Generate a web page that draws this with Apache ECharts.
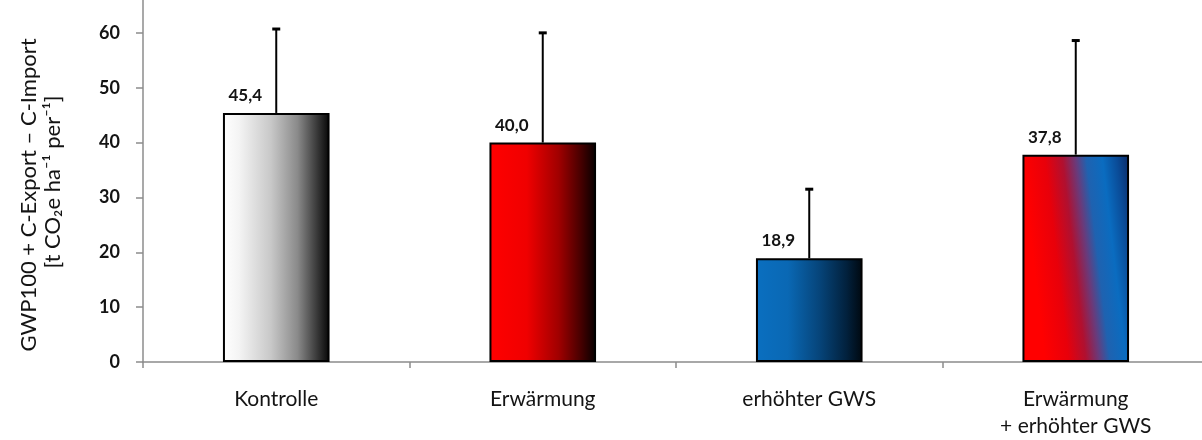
<!DOCTYPE html>
<html>
<head>
<meta charset="utf-8">
<script src="https://cdn.jsdelivr.net/npm/echarts@6/dist/echarts.min.js"></script>
<style>
  html, body { margin: 0; padding: 0; background: #fff; }
  #chart { width: 1202px; height: 440px; }
</style>
</head>
<body>
<div id="chart"></div>
<script>
// Treatments and their mean net balance with the upper standard deviation
const categories = ['Kontrolle', 'Erwärmung', 'erhöhter GWS', 'Erwärmung\n+ erhöhter GWS'];
const means = [45.4, 40.0, 18.9, 37.8];
const stdDev = [15.3, 20.0, 12.6, 20.8];
const yTicks = [0, 10, 20, 30, 40, 50, 60, 70];

const FONT = 'Lato, "Open Sans", sans-serif';
const AXIS_GREY = '#8c8c8c';
const TEXT = '#141414';

function hGrad(stops) {
  return new echarts.graphic.LinearGradient(0, 0, 1, 0,
    stops.map(s => ({ offset: s[0], color: s[1] })));
}

// One fill per treatment
const fills = [
  hGrad([[0, '#ffffff'], [0.15, '#f4f4f4'], [0.45, '#c8c8c8'], [0.7, '#8a8a8a'], [0.88, '#3a3a3a'], [1, '#050505']]),
  hGrad([[0, '#ff0000'], [0.35, '#f00000'], [0.65, '#a00000'], [0.85, '#4a0000'], [1, '#050000']]),
  hGrad([[0, '#0a6fc0'], [0.3, '#0a68b4'], [0.6, '#064479'], [0.85, '#02213d'], [1, '#00080f']]),
  // combined treatment: red fading into blue along a slight diagonal
  new echarts.graphic.LinearGradient(0, 0.06, 1, 0, [
    { offset: 0, color: '#ff0000' },
    { offset: 0.22, color: '#e8000a' },
    { offset: 0.38, color: '#b01030' },
    { offset: 0.5, color: '#6a3a7a' },
    { offset: 0.6, color: '#1f62b0' },
    { offset: 0.75, color: '#0a6cc0' },
    { offset: 0.88, color: '#0a4c98' },
    { offset: 1, color: '#0a2a68' }
  ])
];

const chart = echarts.init(document.getElementById('chart'), null, { renderer: 'canvas' });

chart.setOption({
  animation: false,
  backgroundColor: '#ffffff',
  grid: { left: 143, right: -7, top: -22, bottom: 78, containLabel: false, outerBoundsMode: 'none' },
  xAxis: {
    type: 'category',
    data: categories,
    axisLine: { lineStyle: { color: AXIS_GREY, width: 1.5 } },
    axisTick: { show: true, length: 6, lineStyle: { color: AXIS_GREY, width: 1.5 } },
    axisLabel: {
      color: TEXT, fontFamily: FONT, fontSize: 21, margin: 24, lineHeight: 27
    }
  },
  yAxis: {
    type: 'value',
    min: 0, max: yTicks[yTicks.length - 1], interval: yTicks[1] - yTicks[0],
    splitLine: { show: false },
    axisLine: { show: true, lineStyle: { color: AXIS_GREY, width: 1.5 } },
    axisTick: { show: true, length: 7, lineStyle: { color: AXIS_GREY, width: 1.5 } },
    axisLabel: {
      color: TEXT, fontFamily: FONT, fontSize: 18, fontWeight: 'bold', margin: 23
    }
  },
  graphic: [
    {
      type: 'text', x: 29, y: 195, rotation: Math.PI / 2,
      style: {
        text: 'GWP100 + C-Export \u2013 C-Import', fill: TEXT,
        font: '22px ' + FONT, align: 'center', verticalAlign: 'middle'
      }
    },
    {
      type: 'text', x: 53, y: 182, rotation: Math.PI / 2,
      style: {
        text: '[t CO\u2082e ha\u207B\u00B9 per\u207B\u00B9]', fill: TEXT,
        font: '22px ' + FONT, align: 'center', verticalAlign: 'middle'
      }
    }
  ],
  series: [
    {
      type: 'bar',
      barWidth: '40%',
      data: means.map((v, i) => ({
        value: v,
        itemStyle: { color: fills[i], borderColor: '#000', borderWidth: 2 }
      })),
      label: {
        show: true, position: 'top', distance: 9, offset: [-31, 0],
        color: TEXT, fontFamily: FONT, fontSize: 17, fontWeight: 'bold',
        formatter: p => p.value.toFixed(1).replace('.', ',')
      },
      z: 2
    },
    {
      type: 'custom',
      data: means.map((v, i) => [i, v, v + stdDev[i]]),
      renderItem: function (params, api) {
        const base = api.coord([api.value(0), api.value(1)]);
        const top = api.coord([api.value(0), api.value(2)]);
        const style = { stroke: '#000', lineWidth: 2 };
        return {
          type: 'group',
          children: [
            { type: 'line', shape: { x1: base[0], y1: base[1], x2: top[0], y2: top[1] }, style },
            { type: 'line', shape: { x1: top[0] - 4, y1: top[1], x2: top[0] + 4, y2: top[1] }, style: { stroke: '#000', lineWidth: 3 } }
          ]
        };
      },
      z: 3
    }
  ]
});
</script>
</body>
</html>
